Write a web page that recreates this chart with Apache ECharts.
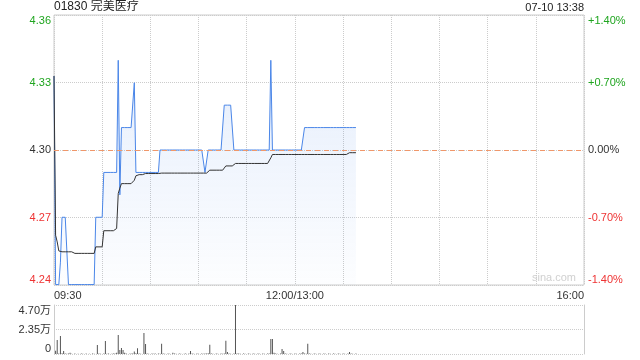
<!DOCTYPE html>
<html>
<head>
<meta charset="utf-8">
<script src="https://cdn.jsdelivr.net/npm/echarts@6/dist/echarts.min.js"></script>
<style>
html,body{margin:0;padding:0;background:#fff;}
#c{width:640px;height:360px;}
</style>
</head>
<body>
<div id="c"></div>
<script>
// ---- data ----
const titleText = '01830 完美医疗';
const timeText = '07-10 13:38';
const prevClose = 4.30;
const timeTickIndex = [0, 150, 330];
const timeTickText = ['09:30', '12:00/13:00', '16:00'];
const priceTickText = ['4.24', '4.27', '4.30', '4.33', '4.36'];
const pctTickText = ['-1.40%', '-0.70%', '0.00%', '+0.70%', '+1.40%'];
const volTickText = ['0', '2.35万', '4.70万'];

const price = [
  4.333, 4.24, 4.24, 4.24, 4.25, 4.27, 4.27, 4.27, 4.27, 4.24,
  4.24, 4.24, 4.24, 4.24, 4.24, 4.24, 4.24, 4.24, 4.24, 4.24,
  4.24, 4.24, 4.24, 4.24, 4.24, 4.24, 4.27, 4.27, 4.27, 4.27,
  4.27, 4.29, 4.29, 4.29, 4.29, 4.29, 4.29, 4.29, 4.29, 4.29,
  4.34, 4.28, 4.31, 4.31, 4.31, 4.31, 4.31, 4.31, 4.31, 4.31,
  4.33, 4.29, 4.29, 4.29, 4.29, 4.29, 4.29, 4.29, 4.29, 4.29,
  4.29, 4.29, 4.29, 4.29, 4.29, 4.29, 4.30, 4.30, 4.30, 4.30,
  4.30, 4.30, 4.30, 4.30, 4.30, 4.30, 4.30, 4.30, 4.30, 4.30,
  4.30, 4.30, 4.30, 4.30, 4.30, 4.30, 4.30, 4.30, 4.30, 4.30,
  4.30, 4.30, 4.30, 4.30, 4.29, 4.29, 4.30, 4.30, 4.30, 4.30,
  4.30, 4.30, 4.30, 4.30, 4.30, 4.30, 4.32, 4.32, 4.32, 4.32,
  4.32, 4.32, 4.30, 4.30, 4.30, 4.30, 4.30, 4.30, 4.30, 4.30,
  4.30, 4.30, 4.30, 4.30, 4.30, 4.30, 4.30, 4.30, 4.30, 4.30,
  4.30, 4.30, 4.30, 4.30, 4.30, 4.34, 4.30, 4.30, 4.30, 4.30,
  4.30, 4.30, 4.30, 4.30, 4.30, 4.30, 4.30, 4.30, 4.30, 4.30,
  4.30, 4.30, 4.30, 4.30, 4.30, 4.30, 4.31, 4.31, 4.31, 4.31,
  4.31, 4.31, 4.31, 4.31, 4.31, 4.31, 4.31, 4.31, 4.31, 4.31,
  4.31, 4.31, 4.31, 4.31, 4.31, 4.31, 4.31, 4.31, 4.31, 4.31,
  4.31, 4.31, 4.31, 4.31, 4.31, 4.31, 4.31, 4.31, 4.31
];

const avgPrice = [
  4.333, 4.262, 4.259, 4.255, 4.2546, 4.2546, 4.2546, 4.2546, 4.2546, 4.2546,
  4.2546, 4.2546, 4.2539, 4.2539, 4.2539, 4.2539, 4.2539, 4.2539, 4.2539, 4.2539,
  4.2539, 4.2539, 4.2539, 4.2539, 4.2539, 4.2539, 4.2568, 4.2568, 4.2568, 4.2568,
  4.2568, 4.264, 4.264, 4.264, 4.264, 4.264, 4.264, 4.264, 4.264, 4.265,
  4.2806, 4.283, 4.285, 4.285, 4.285, 4.285, 4.285, 4.285, 4.285, 4.285,
  4.2865, 4.2885, 4.289, 4.289, 4.289, 4.289, 4.2895, 4.2895, 4.2895, 4.2895,
  4.2895, 4.2895, 4.2895, 4.2895, 4.2895, 4.2895, 4.2895, 4.2897, 4.2897, 4.2897,
  4.2897, 4.2897, 4.2897, 4.2897, 4.2897, 4.2897, 4.2897, 4.2897, 4.2897, 4.2897,
  4.2897, 4.2897, 4.2897, 4.2897, 4.2897, 4.2897, 4.2897, 4.2897, 4.2897, 4.2897,
  4.2897, 4.2897, 4.2897, 4.2897, 4.2897, 4.2897, 4.2902, 4.291, 4.291, 4.291,
  4.291, 4.291, 4.291, 4.291, 4.291, 4.291, 4.2915, 4.2929, 4.2929, 4.2929,
  4.2929, 4.2929, 4.2932, 4.294, 4.294, 4.294, 4.294, 4.294, 4.294, 4.294,
  4.294, 4.294, 4.294, 4.294, 4.294, 4.294, 4.294, 4.294, 4.294, 4.294,
  4.294, 4.294, 4.294, 4.294, 4.294, 4.2965, 4.298, 4.298, 4.298, 4.298,
  4.298, 4.298, 4.298, 4.298, 4.298, 4.298, 4.298, 4.298, 4.298, 4.298,
  4.298, 4.298, 4.298, 4.298, 4.298, 4.298, 4.298, 4.298, 4.298, 4.298,
  4.298, 4.298, 4.298, 4.298, 4.298, 4.298, 4.298, 4.298, 4.298, 4.298,
  4.298, 4.298, 4.298, 4.298, 4.298, 4.298, 4.298, 4.298, 4.298, 4.298,
  4.298, 4.298, 4.298, 4.298, 4.2988, 4.2988, 4.2988, 4.2988, 4.2988
];

const volume = [
  0, 3200, 13400, 500, 17300, 600, 2900, 400, 300, 500,
  1300, 300, 0, 400, 0, 300, 0, 400, 300, 0,
  400, 0, 300, 0, 400, 300, 0, 8600, 400, 300,
  0, 400, 12500, 300, 400, 0, 300, 500, 400, 1300,
  18200, 3800, 5800, 3800, 1300, 400, 0, 300, 500, 400,
  2300, 600, 5600, 400, 300, 0, 20100, 9600, 400, 300,
  0, 400, 300, 500, 0, 400, 300, 9900, 400, 300,
  0, 400, 300, 0, 1200, 400, 300, 0, 400, 300,
  0, 300, 400, 0, 500, 2900, 400, 300, 0, 400,
  300, 0, 400, 300, 500, 400, 600, 8900, 400, 300,
  0, 400, 300, 0, 400, 300, 500, 12800, 1900, 400,
  300, 0, 400, 47000, 500, 400, 300, 0, 400, 300,
  0, 400, 300, 0, 400, 300, 0, 400, 300, 0,
  400, 300, 0, 400, 500, 14400, 14400, 1200, 400, 300,
  0, 500, 4800, 2900, 400, 300, 0, 400, 300, 0,
  400, 300, 0, 400, 500, 1900, 400, 300, 9900, 400,
  300, 0, 400, 300, 0, 400, 300, 0, 400, 300,
  0, 400, 300, 0, 400, 300, 0, 400, 300, 0,
  400, 300, 0, 500, 1900, 400, 300, 0, 400
];

// ---- chart ----
const FONT = "'Liberation Sans', Arial, 'Noto Sans CJK SC', sans-serif";
const GREEN = '#1fa51f';
const RED = '#ee3333';
const DARK = '#333';

const categories = [];
for (let i = 0; i <= 330; i++) categories.push(String(i));

function pctColor(v) {
  const n = Number(v);
  if (n > 0.001) return GREEN;
  if (n < -0.001) return RED;
  return DARK;
}
function pctIndex(v) {
  return Math.round(Number(v) / 0.7) + 2;
}

const chart = echarts.init(document.getElementById('c'), null, {renderer: 'canvas'});
chart.setOption({
  animation: false,
  textStyle: {fontFamily: FONT},
  grid: [
    {left: 54, right: 56, top: 15, height: 270, show: true, borderColor: '#ccc', borderWidth: 1},
    {left: 54, right: 56, top: 305, height: 49}
  ],
  graphic: [
    {type: 'text', left: 54, top: 1, style: {text: titleText, fill: '#222', font: '12px ' + FONT}},
    {type: 'text', right: 56, top: 2, style: {text: timeText, fill: '#222', font: '11px ' + FONT}},
    {type: 'text', left: 532, top: 272, style: {text: 'sina.com', fill: '#d0d0d0', font: '11px ' + FONT}}
  ],
  xAxis: [
    {
      type: 'category', gridIndex: 0, data: categories, boundaryGap: false,
      axisLine: {show: false}, axisTick: {show: false},
      axisLabel: {
        interval: function (i) { return timeTickIndex.indexOf(i) >= 0; },
        formatter: function (v, i) { const k = timeTickIndex.indexOf(Number(v)); return k >= 0 ? timeTickText[k] : ''; },
        color: DARK, fontSize: 11, margin: 5,
        alignMinLabel: 'left', alignMaxLabel: 'right', showMinLabel: true, showMaxLabel: true
      },
      splitLine: {show: true, interval: function (i) { return i % 30 === 0; }, lineStyle: {color: '#ccc', type: 'dotted', width: 1}}
    },
    {
      type: 'category', gridIndex: 1, data: categories, boundaryGap: false,
      axisLine: {show: false}, axisTick: {show: false}, axisLabel: {show: false}, splitLine: {show: false}
    }
  ],
  yAxis: [
    {
      type: 'value', gridIndex: 0, min: -1.4, max: 1.4, interval: 0.7, position: 'left',
      axisLine: {show: false}, axisTick: {show: false},
      splitLine: {show: true, lineStyle: {color: '#ccc', type: 'dotted', width: 1}},
      axisLabel: {
        formatter: function (v) { return priceTickText[pctIndex(v)]; },
        color: function (v) { return pctColor(v); },
        fontSize: 11, margin: 3,
        verticalAlignMinLabel: 'bottom', verticalAlignMaxLabel: 'top'
      }
    },
    {
      type: 'value', gridIndex: 0, min: -1.4, max: 1.4, interval: 0.7, position: 'right',
      axisLine: {show: false}, axisTick: {show: false}, splitLine: {show: false},
      axisLabel: {
        formatter: function (v) { return pctTickText[pctIndex(v)]; },
        color: function (v) { return pctColor(v); },
        fontSize: 11, margin: 4,
        verticalAlignMinLabel: 'bottom', verticalAlignMaxLabel: 'top'
      }
    },
    {
      type: 'value', gridIndex: 0, min: prevClose * 0.986, max: prevClose * 1.014, show: false,
      splitLine: {show: false}
    },
    {
      type: 'value', gridIndex: 1, min: 0, max: 47000, interval: 23500, position: 'left',
      axisLine: {show: true, lineStyle: {color: '#ccc'}}, axisTick: {show: false},
      splitLine: {show: true, lineStyle: {color: '#ccc', type: 'dotted', width: 1}},
      axisLabel: {
        formatter: function (v) { return volTickText[Math.round(v / 23500)]; },
        color: DARK, fontSize: 11, margin: 3,
        verticalAlignMinLabel: 'bottom', verticalAlignMaxLabel: 'top'
      }
    },
    {
      type: 'value', gridIndex: 1, min: 0, max: 47000, position: 'right',
      axisLine: {show: true, lineStyle: {color: '#ccc'}}, axisTick: {show: false},
      splitLine: {show: false}, axisLabel: {show: false}
    }
  ],
  series: [
    {
      type: 'line', xAxisIndex: 0, yAxisIndex: 2, data: price, symbol: 'none',
      lineStyle: {color: '#4a86e8', width: 1},
      areaStyle: {
        color: new echarts.graphic.LinearGradient(0, 0, 0, 1, [
          {offset: 0, color: 'rgba(74,134,232,0.2)'},
          {offset: 1, color: 'rgba(74,134,232,0.02)'}
        ])
      },
      markLine: {
        silent: true, symbol: 'none', label: {show: false},
        lineStyle: {color: '#f0976a', type: [5, 4], width: 1},
        data: [{yAxis: prevClose}]
      },
      z: 2
    },
    {
      type: 'line', xAxisIndex: 0, yAxisIndex: 2, data: avgPrice, symbol: 'none',
      lineStyle: {color: '#333', width: 1}, z: 3
    },
    {
      type: 'bar', xAxisIndex: 1, yAxisIndex: 3, data: volume, barWidth: 1,
      itemStyle: {color: '#555'}
    }
  ]
});
</script>
</body>
</html>
